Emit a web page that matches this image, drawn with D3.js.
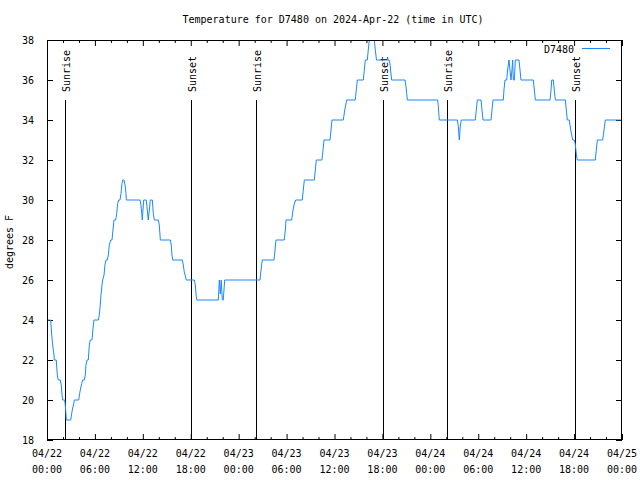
<!DOCTYPE html>
<html>
<head>
<meta charset="utf-8">
<script src="https://cdn.jsdelivr.net/npm/d3@7"></script>
<style>
  html, body { margin: 0; padding: 0; background: #fff; }
  svg text { font-family: "DejaVu Sans Mono", "Liberation Mono", monospace; font-size: 10px; fill: #000; }
</style>
</head>
<body>
<svg id="chart" width="640" height="480"></svg>
<script>
// ---- data (hours since 2024-04-22 00:00 UTC, temperature °F) ----
const title = "Temperature for D7480 on 2024-Apr-22 (time in UTC)";
const seriesName = "D7480";
const hours = [
  0, 0.46, 0.59, 0.71, 0.88, 0.91, 1.16, 1.29, 1.41, 1.67, 1.79, 1.88, 1.97, 2.22, 2.29, 2.38, 2.42,
  2.97, 3.09, 3.22, 3.34, 3.42, 3.97, 4.09, 4.22, 4.35, 4.47, 4.67, 4.80, 4.88, 5.01, 5.17, 5.30, 5.42,
  5.63, 5.80, 5.89, 6.42, 6.55, 6.67, 6.76, 6.89, 6.97, 7.14, 7.26, 7.39, 7.55, 7.68, 7.80, 7.98, 8.14,
  8.26, 8.39, 8.60, 8.73, 8.85, 8.98, 9.14, 9.27, 9.39, 9.48, 9.64, 9.77, 9.89, 9.93, 11.65, 11.77,
  11.86, 11.93, 12.02, 12.11, 12.43, 12.56, 12.68, 12.81, 12.94, 13.19, 13.31, 13.44, 13.94, 14.06,
  14.15, 14.19, 15.44, 15.56, 15.65, 15.74, 16.94, 17.07, 17.19, 17.32, 17.44, 18.44, 18.57, 18.66,
  18.75, 21.45, 21.58, 21.70, 21.82, 21.95, 22.07, 22.25, 26.67, 26.80, 26.96, 28.43, 28.55, 28.68,
  29.71, 29.84, 29.93, 30.64, 30.77, 30.93, 31.14, 31.97, 32.09, 32.22, 33.47, 33.60, 33.72, 34.43,
  34.56, 34.69, 35.44, 35.56, 35.69, 37.10, 37.28, 37.53, 38.60, 38.73, 38.86, 39.61, 39.73, 39.86,
  40.11, 40.23, 40.36, 40.98, 41.11, 41.26, 42.83, 42.95, 43.08, 43.16, 44.83, 44.95, 45.04, 45.12,
  48.92, 49.00, 49.12, 51.38, 51.50, 51.63, 51.75, 51.88, 53.63, 53.76, 53.88, 54.35, 54.47, 54.60,
  55.60, 55.72, 55.85, 57.14, 57.22, 57.35, 57.56, 57.68, 57.85, 57.97, 58.10, 58.22, 58.31, 58.39,
  58.52, 58.64, 59.10, 59.23, 59.35, 60.90, 61.02, 61.15, 62.99, 63.11, 63.20, 63.40, 63.52, 63.65,
  64.90, 65.03, 65.15, 65.40, 65.58, 65.83, 66.03, 66.15, 66.28, 66.40, 68.66, 68.78, 68.91, 69.58,
  69.75, 69.91, 72
];
const temps = [
  24, 24, 23.25, 22.75, 22.25, 22, 22, 21.25, 21, 21, 20.75, 20.25, 20, 20, 19.75, 19.25, 19,
  19, 19.33, 19.6, 19.8, 20, 20, 20.33, 20.6, 20.83, 21, 21, 21.25, 21.75, 22, 22, 22.75, 23,
  23, 23.75, 24, 24, 24.25, 24.75, 25.25, 25.75, 26, 26.25, 26.75, 27, 27, 27.25, 27.75, 28, 28,
  28.5, 29, 29, 29.33, 29.83, 30, 30, 30.33, 30.83, 31, 31, 30.75, 30.33, 30, 30, 29.75,
  29.33, 29, 29.5, 30, 30, 29.5, 29, 29.5, 30, 30, 29.33, 29, 29, 28.75,
  28.25, 28, 28, 27.75, 27.25, 27, 27, 26.75, 26.4, 26.2, 26, 26, 25.75, 25.3,
  25, 25, 26, 25.3, 26, 25, 25, 26, 26, 26.5, 27, 27, 27.5, 28,
  28, 28.5, 29, 29, 29.4, 29.75, 30, 30, 30.5, 31, 31, 31.5, 32, 32,
  32.5, 33, 33, 33.5, 34, 34, 34.5, 35, 35, 35.5, 36, 36, 36.5, 37,
  37, 37.5, 38, 38, 37.5, 37, 37, 36.8, 36.3, 36, 36, 35.67, 35.33, 35,
  35, 34.67, 34, 34, 33.7, 33, 33.7, 34, 34, 34.5, 35, 35, 34.5, 34,
  34, 34.5, 35, 35, 35.5, 36, 36, 36.5, 37, 36.5, 36, 36.5, 37, 36,
  36, 37, 37, 36.5, 36, 36, 35.5, 35, 35, 35.5, 36, 36, 35.5, 35,
  35, 34.5, 34, 34, 33.5, 33, 33, 32.8, 32.3, 32, 32, 32.5, 33, 33,
  33.5, 34, 34
];
const sunEventHours = [2.2, 18.0, 26.15, 42.05, 50.1, 66.1];
const sunEventLabels = ["Sunrise", "Sunset", "Sunrise", "Sunset", "Sunrise", "Sunset"];
const yTicks = [18, 20, 22, 24, 26, 28, 30, 32, 34, 36, 38];
const xTickLabels = [["04/22","00:00"],["04/22","06:00"],["04/22","12:00"],["04/22","18:00"],
  ["04/23","00:00"],["04/23","06:00"],["04/23","12:00"],["04/23","18:00"],
  ["04/24","00:00"],["04/24","06:00"],["04/24","12:00"],["04/24","18:00"],["04/25","00:00"]];

// ---- layout ----
const svg = d3.select("#chart");
const L = 47, R = 622, T = 40, B = 440;
const t0 = Date.UTC(2024, 3, 22, 0, 0);
const toDate = h => new Date(t0 + h * 3600000);
const x = d3.scaleUtc().domain([toDate(0), toDate(72)]).range([L, R]);
const y = d3.scaleLinear().domain([18, 38]).range([B, T]);
const lineColor = "#1a88ff";

// title
svg.append("text").attr("x", 333).attr("y", 23).attr("text-anchor", "middle").text(title);

// y axis label
svg.append("text").attr("transform", "translate(13,242) rotate(-90)")
  .attr("text-anchor", "middle").text("degrees F");

// clip
svg.append("clipPath").attr("id", "clip").append("rect")
  .attr("x", L).attr("y", T).attr("width", R - L).attr("height", B - T);

// y ticks (left & right) and labels
const yAxisL = d3.axisLeft(y).tickValues(yTicks).tickSize(-6).tickFormat(d3.format("d")).tickPadding(13);
const gyl = svg.append("g").attr("transform", `translate(${L},0)`).call(yAxisL);
const yAxisR = d3.axisRight(y).tickValues(yTicks).tickSize(-6).tickFormat("");
svg.append("g").attr("transform", `translate(${R},0)`).call(yAxisR);

// x ticks: major every 6h, minor every 2h, bottom & top
const majorH = d3.range(0, 73, 6), minorH = d3.range(0, 73, 2).filter(h => h % 6 !== 0);
svg.append("g").attr("transform", `translate(0,${B})`)
  .call(d3.axisBottom(x).tickValues(majorH.map(toDate)).tickSize(-6).tickFormat(""));
svg.append("g").attr("transform", `translate(0,${B})`)
  .call(d3.axisBottom(x).tickValues(minorH.map(toDate)).tickSize(-3).tickFormat(""));
svg.append("g").attr("transform", `translate(0,${T})`)
  .call(d3.axisTop(x).tickValues(majorH.map(toDate)).tickSize(-6).tickFormat(""));
svg.append("g").attr("transform", `translate(0,${T})`)
  .call(d3.axisTop(x).tickValues(minorH.map(toDate)).tickSize(-3).tickFormat(""));
svg.selectAll(".domain").remove();
svg.selectAll(".tick line").attr("stroke", "#000");
gyl.selectAll(".tick text").attr("font-family", null).attr("font-size", null).attr("dy", "0.35em");

// x tick labels (two lines)
const xl = svg.append("g");
majorH.forEach((h, i) => {
  const tx = xl.append("text").attr("x", x(toDate(h))).attr("y", 457).attr("text-anchor", "middle");
  tx.append("tspan").attr("x", x(toDate(h))).text(xTickLabels[i][0]);
  tx.append("tspan").attr("x", x(toDate(h))).attr("dy", 16).text(xTickLabels[i][1]);
});

// sunrise/sunset lines
sunEventHours.forEach((h, i) => {
  const sx = Math.round(x(toDate(h))) + 0.5;
  svg.append("line").attr("x1", sx).attr("x2", sx).attr("y1", 100).attr("y2", B)
    .attr("stroke", "#000").attr("stroke-width", 1);
  svg.append("text").attr("transform", `translate(${sx + 4},92) rotate(-90)`)
    .attr("text-anchor", "start").text(sunEventLabels[i]);
});

// data line
const data = hours.map((h, i) => ({ d: toDate(h), v: temps[i] }));
svg.append("path").datum(data).attr("clip-path", "url(#clip)")
  .attr("fill", "none").attr("stroke", lineColor).attr("stroke-width", 1)
  .attr("d", d3.line().x(p => x(p.d)).y(p => y(p.v)));

// border
svg.append("rect").attr("x", L + 0.5).attr("y", T + 0.5).attr("width", R - L - 1).attr("height", B - T - 1)
  .attr("fill", "none").attr("stroke", "#000").attr("stroke-width", 1);

// legend
svg.append("text").attr("x", 574).attr("y", 53).attr("text-anchor", "end").text(seriesName);
svg.append("line").attr("x1", 582).attr("x2", 610).attr("y1", 48.5).attr("y2", 48.5)
  .attr("stroke", lineColor).attr("stroke-width", 1);
</script>
</body>
</html>
